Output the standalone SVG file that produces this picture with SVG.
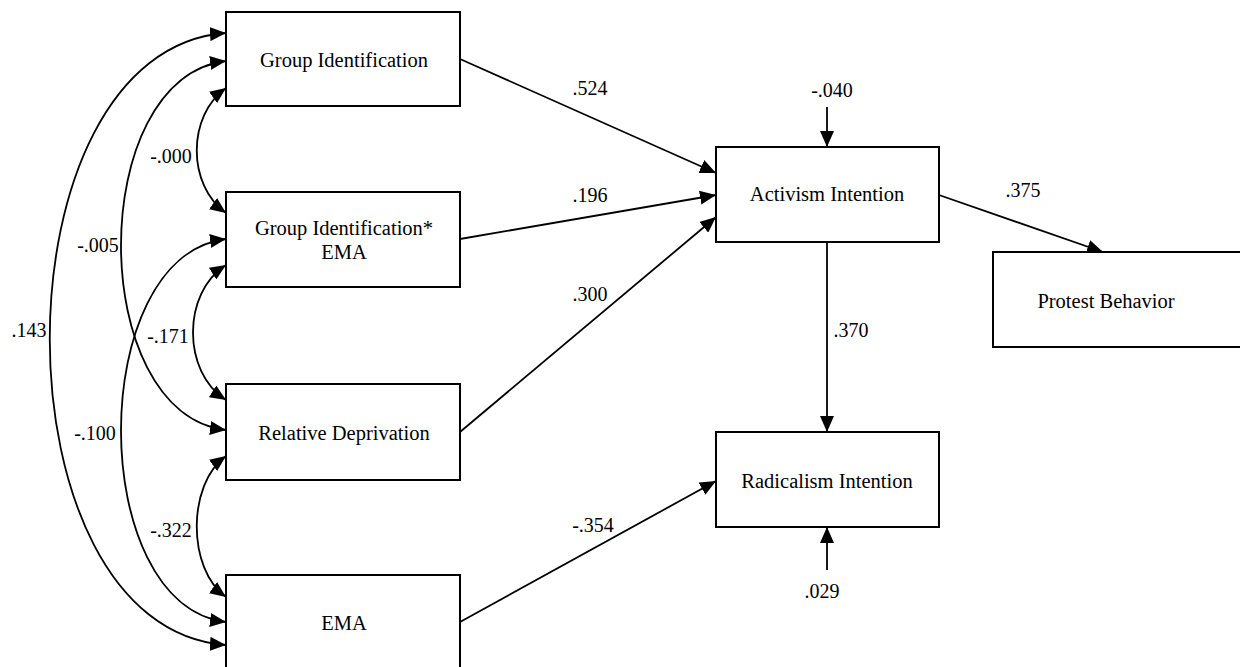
<svg xmlns="http://www.w3.org/2000/svg" width="1240" height="667" viewBox="0 0 1240 667" font-family="'Liberation Serif', 'DejaVu Serif', serif">
<style>
.box{fill:#fff;stroke:#000;stroke-width:2}
.nt{font-size:20.5px;fill:#000;text-anchor:middle}
.lb{font-size:20px;fill:#000;text-anchor:middle}
.ln{fill:none;stroke:#000;stroke-width:1.8}
.one{marker-end:url(#ah)}
.two{marker-start:url(#ah);marker-end:url(#ah)}
</style>
<defs>
<marker id="ah" viewBox="0 0 16 14" refX="16" refY="7" markerWidth="16" markerHeight="14" markerUnits="userSpaceOnUse" orient="auto-start-reverse">
<path d="M0,0 L16,7 L0,14 z" fill="#000"/>
</marker>
</defs>
<rect width="1240" height="667" fill="#fff"/>
<g id="connectors">
<path class="ln one" d="M460,59 L716,173"/>
<path class="ln one" d="M460,239 L716,195"/>
<path class="ln one" d="M460,432 L716,217"/>
<path class="ln one" d="M460,622 L716,481"/>
<path class="ln one" d="M939,195 L1103,252"/>
<path class="ln one" d="M827,242 L827,432"/>
<path class="ln one" d="M827,107 L827,147"/>
<path class="ln one" d="M827,570 L827,527"/>
<path class="ln two" d="M226,88 C187,116 187,185 226,213"/>
<path class="ln two" d="M226,265 C182,293 182,372 226,400"/>
<path class="ln two" d="M226,456 C187,484 187,569 226,597"/>
<path class="ln two" d="M226,61 C86,78 86,413 226,430"/>
<path class="ln two" d="M226,239 C86,256 86,605 226,622"/>
<path class="ln two" d="M226,33 C-9,50 -9,628 226,645"/>
<text class="lb" x="590" y="95">.524</text>
<text class="lb" x="590" y="202">.196</text>
<text class="lb" x="590" y="301">.300</text>
<text class="lb" x="593" y="532">-.354</text>
<text class="lb" x="1023" y="197">.375</text>
<text class="lb" x="851" y="337">.370</text>
<text class="lb" x="832" y="97">-.040</text>
<text class="lb" x="822" y="598">.029</text>
<text class="lb" x="171" y="163">-.000</text>
<text class="lb" x="98" y="252">-.005</text>
<text class="lb" x="29" y="337">.143</text>
<text class="lb" x="168" y="343">-.171</text>
<text class="lb" x="95" y="440">-.100</text>
<text class="lb" x="171" y="537">-.322</text>
</g>
<g id="group-identification">
<rect class="box" x="226" y="12" width="234" height="94"/>
<text class="nt" x="344" y="67">Group Identification</text>
</g>
<g id="group-identification-ema">
<rect class="box" x="226" y="192" width="234" height="95"/>
<text class="nt" x="344" y="235">Group Identification*</text>
<text class="nt" x="344" y="259">EMA</text>
</g>
<g id="relative-deprivation">
<rect class="box" x="226" y="384" width="234" height="96"/>
<text class="nt" x="344" y="440">Relative Deprivation</text>
</g>
<g id="ema">
<rect class="box" x="226" y="575" width="234" height="100"/>
<text class="nt" x="344" y="630">EMA</text>
</g>
<g id="activism-intention">
<rect class="box" x="716" y="147" width="223" height="95"/>
<text class="nt" x="827" y="201">Activism Intention</text>
</g>
<g id="radicalism-intention">
<rect class="box" x="716" y="432" width="223" height="95"/>
<text class="nt" x="827" y="488">Radicalism Intention</text>
</g>
<g id="protest-behavior">
<rect class="box" x="993" y="252" width="270" height="95"/>
<text class="nt" x="1106" y="308">Protest Behavior</text>
</g>
</svg>
